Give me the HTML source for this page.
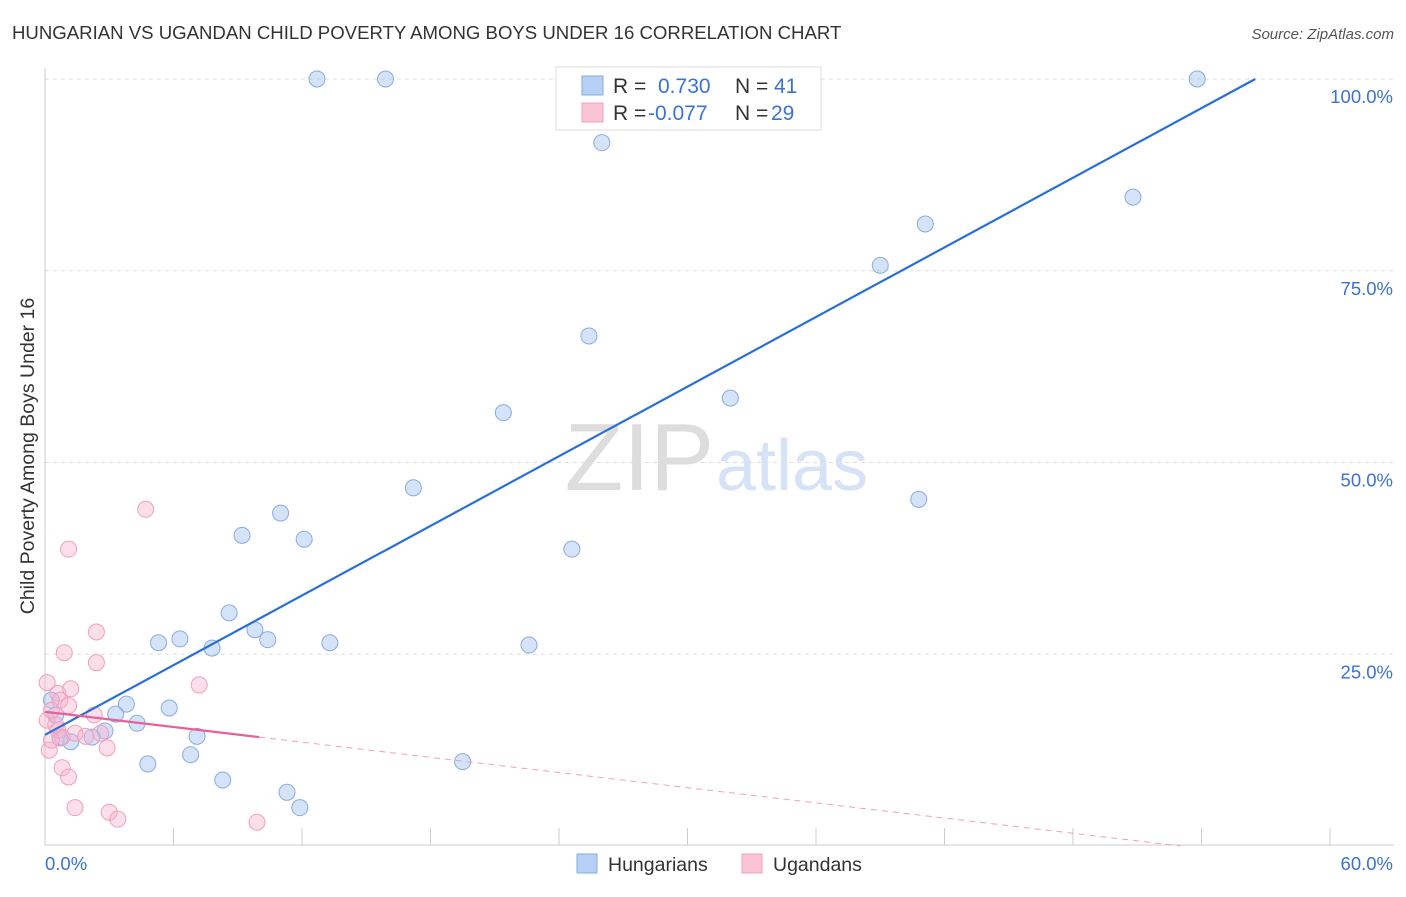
<!DOCTYPE html>
<html><head><meta charset="utf-8"><style>
body{margin:0;background:#fff;font-family:"Liberation Sans",sans-serif}
svg text{font-family:"Liberation Sans",sans-serif}
</style></head><body>
<svg id="c" width="1406" height="892" xmlns="http://www.w3.org/2000/svg">
<text x="12" y="39" font-size="18.6" fill="#333">HUNGARIAN VS UGANDAN CHILD POVERTY AMONG BOYS UNDER 16 CORRELATION CHART</text>
<text x="1394" y="39" font-size="15" fill="#555" text-anchor="end" font-style="italic">Source: ZipAtlas.com</text>
<text transform="translate(34,456) rotate(-90)" font-size="19.5" fill="#333" text-anchor="middle">Child Poverty Among Boys Under 16</text>
<g id="grid"></g>
<text x="714" y="490" font-size="96" fill="#ddd" text-anchor="end" font-family="Liberation Serif">ZIP</text>
<text x="716" y="490" font-size="72" fill="#d6e2f5">atlas</text>
<g id="marks"></g>
<g>
<rect x="556" y="67" width="265" height="63" fill="#fff" stroke="#ddd"/>
<rect x="582" y="76" width="21" height="19" fill="#b8d0f5" stroke="#8aacdf"/>
<rect x="582" y="103" width="21" height="19" fill="#fac4d6" stroke="#f0a0bc"/>
<text x="613" y="93" font-size="21" fill="#333">R =</text>
<text x="658" y="93" font-size="21" fill="#3a73d0">0.730</text>
<text x="735" y="93" font-size="21" fill="#333">N =</text>
<text x="774" y="93" font-size="21" fill="#3a73d0">41</text>
<text x="613" y="120" font-size="21" fill="#333">R =</text>
<text x="648" y="120" font-size="21" fill="#3a73d0">-0.077</text>
<text x="735" y="120" font-size="21" fill="#333">N =</text>
<text x="771" y="120" font-size="21" fill="#3a73d0">29</text>
</g>
<g>
<rect x="577" y="854" width="20" height="19" fill="#b8d0f5" stroke="#8aacdf"/>
<text x="608" y="871" font-size="19.5" fill="#333">Hungarians</text>
<rect x="742" y="854" width="20" height="19" fill="#fac4d6" stroke="#f0a0bc"/>
<text x="773" y="871" font-size="19.5" fill="#333">Ugandans</text>
</g>
</svg>
<script>
const blueX=[12.7,15.9,53.8,26.0,50.8,41.1,39.0,25.4,32.0,21.4,17.2,40.8,24.6,11.0,9.2,12.1,8.6,9.8,10.4,6.3,5.3,7.8,13.3,22.6,3.8,5.8,3.3,4.3,2.8,2.2,1.2,0.7,0.3,7.1,6.8,4.8,19.5,8.3,11.3,11.9,0.5];
const blueY=[100,100,100,91.7,84.6,81.1,75.7,66.5,58.4,56.5,46.7,45.2,38.7,43.4,40.5,40.0,30.4,28.2,26.9,27.0,26.5,25.8,26.5,26.2,18.5,18.0,17.2,16.0,15.0,14.2,13.6,14.1,19.0,14.3,11.9,10.7,11.0,8.6,7.0,5.0,17.1];
const pinkX=[1.1,4.7,2.4,0.9,2.4,7.2,0.1,0.6,1.2,0.7,1.1,2.3,0.1,0.3,0.6,0.8,1.4,1.9,2.9,0.2,0.8,1.1,1.4,3.0,3.4,9.9,0.3,0.5,2.6];
const pinkY=[38.7,43.9,27.9,25.2,23.9,21.0,21.3,19.9,20.5,19.0,18.3,17.1,16.4,17.7,15.1,14.2,14.7,14.3,12.8,12.5,10.2,9.0,5.0,4.4,3.5,3.1,13.8,15.8,14.7];
const yTicks=[25,50,75,100];
const yTickLabels=["25.0%","50.0%","75.0%","100.0%"];
const xTickCount=10;
const blueFit=[14.5,1.513];
const pinkFit=[17.5,-0.33];
const NS="http://www.w3.org/2000/svg";
const xs=v=>45+v*(1330-45)/60, ys=v=>846-v*(846-79)/100;
function mk(t,a,p){const e=document.createElementNS(NS,t);for(const k in a)e.setAttribute(k,a[k]);(p||document.getElementById('marks')).appendChild(e);return e;}
const g=document.getElementById('grid');
yTicks.forEach((t,i)=>{
 const l=mk('line',{x1:45,x2:1394,y1:ys(t),y2:ys(t),stroke:'#ddd','stroke-dasharray':'4,4'},g);
 
 
 const tx=mk('text',{x:1393,y:ys(t)+24,'font-size':18.5,fill:'#3a73d0','text-anchor':'end'},g);
 tx.textContent=yTickLabels[i];
 
 
});
mk('line',{x1:45,x2:45,y1:68,y2:846,stroke:'#ccc'},g);
mk('line',{x1:45,x2:1394,y1:845,y2:845,stroke:'#ccc'},g);
for(let i=1;i<=xTickCount;i++){const t=mk('line',{x1:xs(i*6),x2:xs(i*6),y1:828,y2:845,stroke:'#ccc'},g);
 
 }
let a=mk('text',{x:45,y:870,'font-size':18.5,fill:'#3a73d0'},g);a.textContent='0.0%';


a=mk('text',{x:1393,y:870,'font-size':18.5,fill:'#3a73d0','text-anchor':'end'},g);a.textContent='60.0%';


blueX.forEach((x,i)=>{const c=mk('circle',{cx:xs(x),cy:ys(blueY[i]),r:8,fill:'rgba(160,192,240,0.45)',stroke:'#8aacdf','stroke-width':1});
 
 });
pinkX.forEach((x,i)=>{const c=mk('circle',{cx:xs(x),cy:ys(pinkY[i]),r:8,fill:'rgba(248,175,205,0.4)',stroke:'#f0a0bc','stroke-width':1});
 
 });
const bx1=(100-blueFit[0])/blueFit[1];
let ln=mk('line',{x1:xs(0),y1:ys(blueFit[0]),x2:xs(bx1),y2:ys(100),stroke:'#2a6fd6','stroke-width':2.2});


const pf=x=>pinkFit[0]+pinkFit[1]*x;
ln=mk('line',{x1:xs(0),y1:ys(pf(0)),x2:xs(10),y2:ys(pf(10)),stroke:'#e8609a','stroke-width':2.2});


const pe=-pinkFit[0]/pinkFit[1];
ln=mk('line',{x1:xs(10),y1:ys(pf(10)),x2:xs(pe),y2:ys(0),stroke:'#f0a0bc','stroke-width':1,'stroke-dasharray':'6,5'});


</script>
</body></html>
